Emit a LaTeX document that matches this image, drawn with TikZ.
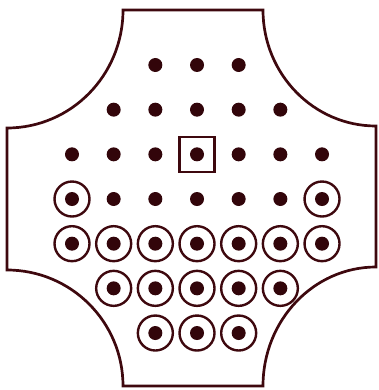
\documentclass[tikz,border=0pt]{standalone}
\definecolor{ink}{RGB}{62,8,14}
\definecolor{dotink}{RGB}{50,5,10}
\begin{document}
\begin{tikzpicture}[x=1pt,y=-1pt,
  outline/.style={draw=ink,line width=2.7pt,line join=miter},
  peg/.style={circle,fill=dotink,inner sep=0pt,minimum size=14pt},
  ring/.style={circle,draw=ink,line width=2.4pt,inner sep=0pt,minimum size=35pt},
  hole/.style={rectangle,draw=ink,line width=2.4pt,inner sep=0pt,minimum size=35pt}]
\useasboundingbox (0,0) rectangle (379,390);
% board outline
\draw[outline] (123,10) -- (263,10)
  arc[start angle=180,end angle=270,x radius=113,y radius=-116] -- (376,267)
  arc[start angle=90,end angle=180,x radius=113,y radius=-119] -- (123,386)
  arc[start angle=0,end angle=90,x radius=116,y radius=-116] -- (7,128)
  arc[start angle=270,end angle=360,x radius=116,y radius=-118] -- cycle;
% pegs
\foreach \r/\a/\b in {1/3/5,2/2/6,3/1/7,4/1/7,5/1/7,6/2/6,7/3/5}{
  \foreach \c in {\a,...,\b}{
    \node[peg] (p\r\c) at ({72+(\c-1)*41.67},{65+(\r-1)*44.67}) {};
  }
}
% rings
\foreach \r/\c in {4/1,4/7,5/1,5/2,5/3,5/4,5/5,5/6,5/7,6/2,6/3,6/4,6/5,6/6,7/3,7/4,7/5}{
  \node[ring] (o\r\c) at (p\r\c) {};
}
% centre square
\node[hole] (sq) at (p34) {};
\end{tikzpicture}
\end{document}
